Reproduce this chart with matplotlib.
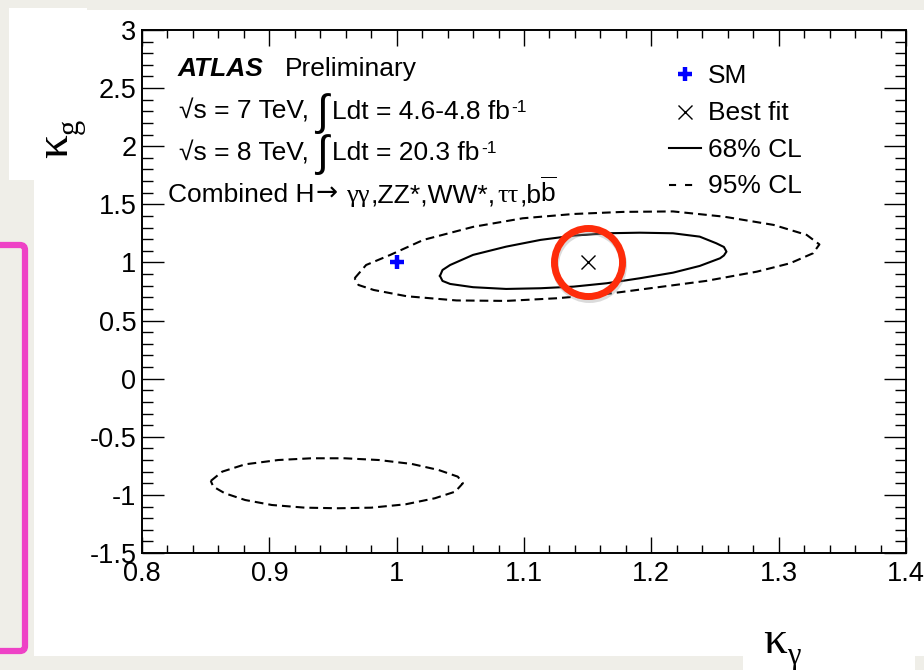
import matplotlib
matplotlib.use("Agg")
import numpy as np
import matplotlib.pyplot as plt
import matplotlib.transforms as mtransforms
from matplotlib.patches import Rectangle, FancyBboxPatch
from matplotlib.text import Annotation
from matplotlib.ticker import MultipleLocator, FixedLocator, FixedFormatter

plt.rcParams['font.family'] = ['Liberation Sans', 'DejaVu Sans']
plt.rcParams['mathtext.fontset'] = 'custom'
plt.rcParams['mathtext.rm'] = 'Liberation Sans'
plt.rcParams['mathtext.it'] = 'Liberation Sans:italic'
plt.rcParams['mathtext.bf'] = 'Liberation Sans:bold'

W, H = 924, 670

# 68% CL contour in the (kappa_gamma, kappa_g) plane
cl68_kgam = [1.034, 1.036, 1.042, 1.060, 1.086, 1.113, 1.139, 1.165, 1.191, 1.217,
             1.238, 1.251, 1.257, 1.259, 1.257, 1.254, 1.238, 1.217, 1.191, 1.165,
             1.139, 1.113, 1.086, 1.060, 1.042, 1.036]
cl68_kg = [0.884, 0.935, 0.978, 1.065, 1.136, 1.194, 1.231, 1.251, 1.256, 1.251,
           1.222, 1.165, 1.133, 1.093, 1.060, 1.036, 0.970, 0.912, 0.864, 0.821,
           0.792, 0.778, 0.772, 0.787, 0.815, 0.841]

# 95% CL contour, island around the best fit
cl95a_kgam = [0.967, 0.976, 0.995, 1.021, 1.060, 1.099, 1.139, 1.178, 1.217, 1.257,
              1.296, 1.322, 1.332, 1.327, 1.309, 1.283, 1.243, 1.204, 1.165, 1.126,
              1.086, 1.047, 1.008, 0.982, 0.970]
cl95a_kg = [0.864, 0.978, 1.065, 1.194, 1.306, 1.380, 1.417, 1.435, 1.439, 1.394,
            1.323, 1.237, 1.155, 1.079, 0.993, 0.921, 0.841, 0.785, 0.729, 0.692,
            0.669, 0.673, 0.709, 0.763, 0.806]

# 95% CL contour, island at negative kappa_g
cl95b_kgam = [0.854, 0.863, 0.881, 0.907, 0.933, 0.959, 0.986, 1.012, 1.033, 1.048,
              1.052, 1.046, 1.030, 1.007, 0.980, 0.954, 0.928, 0.902, 0.881, 0.865,
              0.856]
cl95b_kg = [-0.880, -0.800, -0.737, -0.700, -0.685, -0.685, -0.700, -0.734, -0.786, -0.843,
            -0.900, -0.972, -1.029, -1.081, -1.110, -1.115, -1.110, -1.087, -1.044, -0.986,
            -0.929]

sm_kgam, sm_kg = 1.0, 1.0
best_kgam, best_kg = 1.15, 1.0

x_ticks = [0.8, 0.9, 1.0, 1.1, 1.2, 1.3, 1.4]
x_labels = ["0.8", "0.9", "1", "1.1", "1.2", "1.3", "1.4"]
y_ticks = [-1.5, -1.0, -0.5, 0.0, 0.5, 1.0, 1.5, 2.0, 2.5, 3.0]
y_labels = ["-1.5", "-1", "-0.5", "0", "0.5", "1", "1.5", "2", "2.5", "3"]


def fx(px):
    return px / W


def fy(py):
    return 1 - py / H


def closed(a):
    return np.append(a, a[0])


fig = plt.figure(figsize=(W / 100, H / 100), dpi=100, facecolor='#efeee8')

# white panels behind the plot and the axis titles
for x0, y0, x1, y1 in [(87, 10, 924, 656), (34, 180, 924, 656),
                       (9, 8, 87, 180), (743, 656, 915, 670)]:
    fig.patches.append(Rectangle((fx(x0), fy(y1)), (x1 - x0) / W, (y1 - y0) / H,
                                 transform=fig.transFigure, fc='white', ec='none',
                                 zorder=-2))

# pink frame on the left
pix = mtransforms.IdentityTransform()
fig.patches.append(FancyBboxPatch((-20, H - 651), 45, 406,
                                  boxstyle='round,pad=0,rounding_size=5',
                                  transform=pix, fc='none', ec='#ee42c6', lw=4.5,
                                  zorder=-1))

ax = fig.add_axes([fx(142), fy(553), 764 / W, 523 / H])
ax.set_zorder(2)
ax.set_facecolor('white')
ax.set_xlim(0.8, 1.4)
ax.set_ylim(-1.5, 3.0)

ax.xaxis.set_major_locator(FixedLocator(x_ticks))
ax.xaxis.set_major_formatter(FixedFormatter(x_labels))
ax.yaxis.set_major_locator(FixedLocator(y_ticks))
ax.yaxis.set_major_formatter(FixedFormatter(y_labels))
ax.xaxis.set_minor_locator(MultipleLocator(0.02))
ax.yaxis.set_minor_locator(MultipleLocator(0.1))

ax.tick_params(which='both', direction='in', top=True, right=True, width=1.0,
               labelsize=19.5)
ax.tick_params(axis='x', which='major', length=11.5, pad=5.5)
ax.tick_params(axis='x', which='minor', length=6)
ax.tick_params(axis='y', which='major', length=15.8, pad=4.0)
ax.tick_params(axis='y', which='minor', length=8)
for sp in ax.spines.values():
    sp.set_linewidth(1.4)

# contours
ax.plot(closed(cl68_kgam), closed(cl68_kg), color='black', lw=1.5,
        solid_joinstyle='round')
ax.plot(closed(cl95a_kgam), closed(cl95a_kg), color='black', lw=1.5,
        ls=(0, (4.2, 2.4)), dash_joinstyle='round')
ax.plot(closed(cl95b_kgam), closed(cl95b_kg), color='black', lw=1.5,
        ls=(0, (4.2, 2.4)), dash_joinstyle='round')

# SM and best fit points
ax.plot(sm_kgam, sm_kg, marker='+', color='blue', ms=10, mew=3.2, ls='none')
ax.plot(best_kgam, best_kg, marker='x', color='black', ms=10, mew=1.0, ls='none')

# red ring around the best fit, with a soft shadow
shadow = mtransforms.offset_copy(ax.transData, fig=fig, x=1.5, y=-2.5, units='dots')
ax.plot(best_kgam, best_kg, marker='o', ms=49, mfc='none', mec='#9a9a9a',
        mew=5, alpha=0.35, transform=shadow, zorder=4)
ax.plot(best_kgam, best_kg, marker='o', ms=49, mfc='none', mec='#fe2c0a',
        mew=5, zorder=5)

# labels
fs = 19
fig.text(fx(178), fy(76), "ATLAS", fontsize=fs, fontweight='bold',
         fontstyle='italic', va='baseline')
fig.text(fx(285), fy(76), "Preliminary", fontsize=fs, va='baseline')

for base, energy, lumi in [(119, "7", "4.6-4.8"), (160, "8", "20.3")]:
    fig.text(fx(179), fy(base), "\u221as = %s TeV," % energy, fontsize=fs,
             va='baseline')
    fig.text(fx(316), fy(base + 6), "\u222b", fontsize=31, va='baseline')
    t = fig.text(fx(332), fy(base), "Ldt = %s fb" % lumi, fontsize=fs,
                 va='baseline')
    fig.add_artist(Annotation("-1", xy=(1, 1), xycoords=t, xytext=(1, 0),
                              textcoords='offset points', fontsize=12.5,
                              va='top', ha='left'))

t = fig.text(fx(168), fy(202), "Combined H", fontsize=fs, va='baseline')
pieces = [("\u2192", 'DejaVu Sans', 0.5),
          ("\u03b3\u03b3", 'Liberation Serif', 6),
          (",ZZ*,WW*,", 'Liberation Sans', 1),
          ("\u03c4\u03c4", 'Liberation Serif', 1),
          (",b", 'Liberation Sans', 1),
          (r"$\overline{\mathrm{b}}$", 'Liberation Sans', -1)]
for s, fam, gap in pieces:
    t = fig.add_artist(Annotation(s, xy=(1, 0), xycoords=t, xytext=(gap, 0),
                                  textcoords='offset points', fontsize=fs,
                                  family=fam, va='bottom', ha='left'))

# legend
lx0, lx1, lxm, ltx = fx(669), fx(701), fx(685), fx(708)
fig.text(ltx, fy(83.3), "SM", fontsize=fs, va='baseline')
fig.text(ltx, fy(120), "Best fit", fontsize=fs, va='baseline')
fig.text(ltx, fy(156.7), "68% CL", fontsize=fs, va='baseline')
fig.text(ltx, fy(193.3), "95% CL", fontsize=fs, va='baseline')
fig.add_artist(plt.Line2D([lxm], [fy(74.3)], marker='+', color='blue', ms=10,
                          mew=3.2, transform=fig.transFigure, zorder=3))
fig.add_artist(plt.Line2D([lxm], [fy(111.7)], marker='x', color='black', ms=10,
                          mew=1.0, transform=fig.transFigure, zorder=3))
fig.add_artist(plt.Line2D([lx0, lx1], [fy(148.3)] * 2, color='black', lw=1.5,
                          transform=fig.transFigure, zorder=3))
fig.add_artist(plt.Line2D([lx0, fx(694)], [fy(185)] * 2, color='black', lw=1.5,
                          ls=(0, (3.4, 4.3)), transform=fig.transFigure, zorder=3))

# axis titles
fig.text(fx(775), fy(642), "\u03ba", fontsize=34, family='Liberation Serif',
         ha='center', va='center')
fig.text(fx(794), fy(656.5), "\u03b3", fontsize=22, family='Liberation Serif',
         ha='center', va='center')
fig.text(fx(56), fy(146), "\u03ba", fontsize=34, family='Liberation Serif',
         ha='center', va='center', rotation=90)
fig.text(fx(70.5), fy(126.5), "g", fontsize=22, family='Liberation Serif',
         ha='center', va='center', rotation=90)

fig.savefig("out.png", dpi=100, facecolor=fig.get_facecolor())
